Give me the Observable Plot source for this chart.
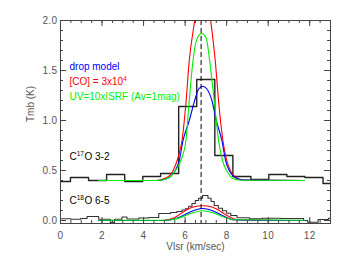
<!DOCTYPE html>
<html><head><meta charset="utf-8">
<script src="https://cdn.jsdelivr.net/npm/d3@7"></script>
<script src="https://cdn.jsdelivr.net/npm/@observablehq/plot@0.6"></script>
<style>
html,body{margin:0;padding:0;background:#fff;}
#chart svg [aria-label="x-axis tick label"] text,
#chart svg [aria-label="y-axis tick label"] text{letter-spacing:0.4px;}
</style>
</head><body><div id="chart"></div>
<script>
// C17O 3-2 observed spectrum (channel edges / values)
const c17Edges = [0, 0.48, 1.35, 2.22, 3.09, 3.96, 4.82, 5.69, 6.56, 7.43, 8.3, 9.17, 10.03, 10.9, 11.77, 12.64, 13];
const c17Vals  = [0.39, 0.43, 0.40, 0.46, 0.39, 0.44, 0.47, 1.14, 1.41, 0.65, 0.44, 0.41, 0.46, 0.44, 0.43, 0.37];

// C18O 6-5 observed spectrum
const c18Edges = [0, 0.5, 0.96, 1.28, 1.84, 2.4, 2.6, 2.96, 3.2, 3.77, 4.25, 4.73, 5.3, 5.6, 5.85, 6.01, 6.17, 6.33, 6.49, 6.65, 6.84, 7.1, 7.25, 7.4, 7.6, 7.8, 8.0, 8.2, 8.5, 9.1, 9.7, 10.6, 11.7, 11.9, 12.4, 12.9, 13];
const c18Vals  = [0.017, 0.012, 0.02, 0.04, 0.012, -0.02, 0.012, 0.035, 0.015, 0.025, 0.03, 0.07, 0.08, 0.09, 0.105, 0.117, 0.143, 0.17, 0.20, 0.223, 0.25, 0.223, 0.19, 0.15, 0.123, 0.097, 0.073, 0.05, 0.027, 0.017, 0.023, 0.02, 0.0, -0.017, 0.01, 0.023];

// Models, C17O 3-2
const redHiX  = [1.84, 4.6, 5.0, 5.3, 5.55, 5.7, 5.85, 6.03, 6.2, 6.46, 6.65, 6.84, 7.03, 7.23, 7.45, 7.63, 7.82, 7.98, 8.2, 8.45, 8.8, 11.75];
const redHiY  = [0.40, 0.40, 0.42, 0.46, 0.56, 0.66, 0.80, 1.15, 1.6, 2.0, 2.3, 2.4, 2.3, 2.0, 1.6, 1.15, 0.80, 0.62, 0.49, 0.43, 0.405, 0.40];
const blueHiX = [1.84, 4.6, 5.0, 5.3, 5.55, 5.72, 5.9, 6.2, 6.46, 6.65, 6.85, 7.05, 7.29, 7.5, 7.77, 7.95, 8.15, 8.4, 8.8, 11.75];
const blueHiY = [0.40, 0.40, 0.41, 0.44, 0.51, 0.60, 0.80, 1.00, 1.20, 1.315, 1.343, 1.315, 1.20, 1.00, 0.80, 0.60, 0.49, 0.43, 0.405, 0.40];
const grnHiX  = [1.84, 4.6, 5.0, 5.3, 5.6, 5.85, 6.04, 6.2, 6.38, 6.58, 6.8, 7.02, 7.18, 7.4, 7.61, 7.8, 8.05, 8.3, 8.7, 11.75];
const grnHiY  = [0.40, 0.40, 0.41, 0.44, 0.52, 0.63, 0.80, 1.2, 1.6, 1.82, 1.87, 1.82, 1.6, 1.2, 0.80, 0.60, 0.48, 0.42, 0.402, 0.40];

// Models, C18O 6-5
const redLoX  = [1.84, 4.8, 5.2, 5.5, 5.8, 6.1, 6.4, 6.85, 7.3, 7.6, 7.9, 8.2, 8.5, 11.75];
const redLoY  = [0.0, 0.0, 0.01, 0.03, 0.07, 0.11, 0.135, 0.148, 0.135, 0.105, 0.065, 0.03, 0.008, 0.0];
const blueLoX = [1.84, 5.0, 5.4, 5.7, 6.0, 6.3, 6.6, 6.85, 7.1, 7.4, 7.7, 8.0, 8.3, 11.75];
const blueLoY = [0.0, 0.0, 0.01, 0.03, 0.06, 0.09, 0.113, 0.12, 0.113, 0.09, 0.06, 0.03, 0.008, 0.0];
const grnLoX  = [1.84, 5.0, 5.4, 5.7, 6.0, 6.3, 6.6, 6.85, 7.1, 7.4, 7.7, 8.0, 8.3, 11.75];
const grnLoY  = [0.003, 0.003, 0.01, 0.024, 0.047, 0.072, 0.09, 0.097, 0.09, 0.072, 0.047, 0.024, 0.008, 0.003];

const vCenter = 6.77;

const xMajor = [0, 2, 4, 6, 8, 10, 12];
const xMinor = d3.range(0, 13.01, 0.5);
const yMajor = [0, 0.5, 1.0, 1.5, 2.0];
const yMinor = d3.range(0, 2.001, 0.1);

// "^{..}" marks a superscript
const legendLines = ["drop model", "[CO] = 3x10^{4}", "UV=10xISRF (Av=1mag)"];
const legendColors = ["#0000ff", "#ff0000", "#00ee00"];
const lineLabels = ["C^{17}O 3-2", "C^{18}O 6-5"];

function steps(edges, vals) { return edges.map((x, i) => ({x, y: vals[Math.min(i, vals.length - 1)]})); }
function series(xs, ys) { return xs.map((x, i) => ({x, y: ys[i]})); }

const W = 350, H = 263, ML = 60, MR = 20, MT = 20, MB = 40;
const iw = W - ML - MR, ih = H - MT - MB;
const ink = "#444";

const modelOpts = (c) => ({x: "x", y: "y", stroke: c, strokeWidth: 1.1, curve: "monotone-x", clip: true});
const legendDy = [46, 61, 76];
const labelDy = [136, 180];

const chart = Plot.plot({
  width: W, height: H,
  marginLeft: ML, marginRight: MR, marginTop: MT, marginBottom: MB,
  style: {fontFamily: "'Liberation Sans', Arial, sans-serif", fontSize: "10px", background: "#fff"},
  x: {domain: [0, 13], label: null},
  y: {domain: [-0.03, 2.0], label: null},
  marks: [
    Plot.line(steps(c17Edges, c17Vals), {x: "x", y: "y", curve: "step-after", stroke: "#222", strokeWidth: 1.4}),
    Plot.line(steps(c18Edges, c18Vals), {x: "x", y: "y", curve: "step-after", stroke: "#333", strokeWidth: 1.1}),
    Plot.line(series(redHiX, redHiY), modelOpts("#ff0000")),
    Plot.line(series(blueHiX, blueHiY), modelOpts("#0000ff")),
    Plot.line(series(grnHiX, grnHiY), modelOpts("#00ee00")),
    Plot.line(series(redLoX, redLoY), modelOpts("#ff0000")),
    Plot.line(series(blueLoX, blueLoY), modelOpts("#0000ff")),
    Plot.line(series(grnLoX, grnLoY), modelOpts("#00ee00")),
    Plot.ruleX([vCenter], {stroke: "#000", strokeWidth: 1, strokeDasharray: "5,3"}),
    // inward ticks on all four sides
    Plot.tickY(yMinor, {y: d => d, insetRight: iw - 3, stroke: ink}),
    Plot.tickY(yMajor, {y: d => d, insetRight: iw - 6, stroke: ink}),
    Plot.tickY(yMinor, {y: d => d, insetLeft: iw - 3, stroke: ink}),
    Plot.tickY(yMajor, {y: d => d, insetLeft: iw - 6, stroke: ink}),
    Plot.tickX(xMinor, {x: d => d, insetTop: ih - 3, stroke: ink}),
    Plot.tickX(xMajor, {x: d => d, insetTop: ih - 6, stroke: ink}),
    Plot.tickX(xMinor, {x: d => d, insetBottom: ih - 3, stroke: ink}),
    Plot.tickX(xMajor, {x: d => d, insetBottom: ih - 6, stroke: ink}),
    Plot.frame({stroke: ink}),
    Plot.axisX(xMajor, {tickSize: 0, tickPadding: 8, fill: "#555", label: null}),
    Plot.axisY(yMajor, {tickSize: 0, tickPadding: 3, fill: "#555", label: null, tickFormat: ".1f"}),
    Plot.text(["Tmb (K)"], {text: d => d, frameAnchor: "left", dx: -30, rotate: -90, fill: "#555", fontSize: 10}),
    Plot.text(["Vlsr (km/sec)"], {text: d => d, frameAnchor: "bottom", dy: 26, fill: "#555", fontSize: 10}),
    ...legendLines.map((t, i) => Plot.text([t], {text: d => d, frameAnchor: "top-left", dx: 9, dy: legendDy[i], textAnchor: "start", lineAnchor: "middle", fill: legendColors[i], fontSize: 10})),
    ...lineLabels.map((t, i) => Plot.text([t], {text: d => d, frameAnchor: "top-left", dx: 9, dy: labelDy[i], textAnchor: "start", lineAnchor: "middle", fill: "#000", fontSize: 10}))
  ]
});

// turn "^{..}" into raised, smaller tspans
d3.select(chart).selectAll("text").each(function() {
  const s = this.textContent;
  if (!s.includes("^{")) return;
  const el = d3.select(this);
  el.text(null);
  const parts = s.split(/(\^\{[^}]*\})/);
  let raised = false;
  parts.forEach(p => {
    if (!p) return;
    if (p.startsWith("^{")) {
      el.append("tspan").attr("dy", "-4").attr("font-size", "6.5px").text(p.slice(2, -1));
      raised = true;
    } else {
      const t = el.append("tspan").text(p);
      if (raised) { t.attr("dy", "4").attr("dx", "0.5"); raised = false; }
    }
  });
});
document.getElementById("chart").appendChild(chart);
</script>
</body></html>
